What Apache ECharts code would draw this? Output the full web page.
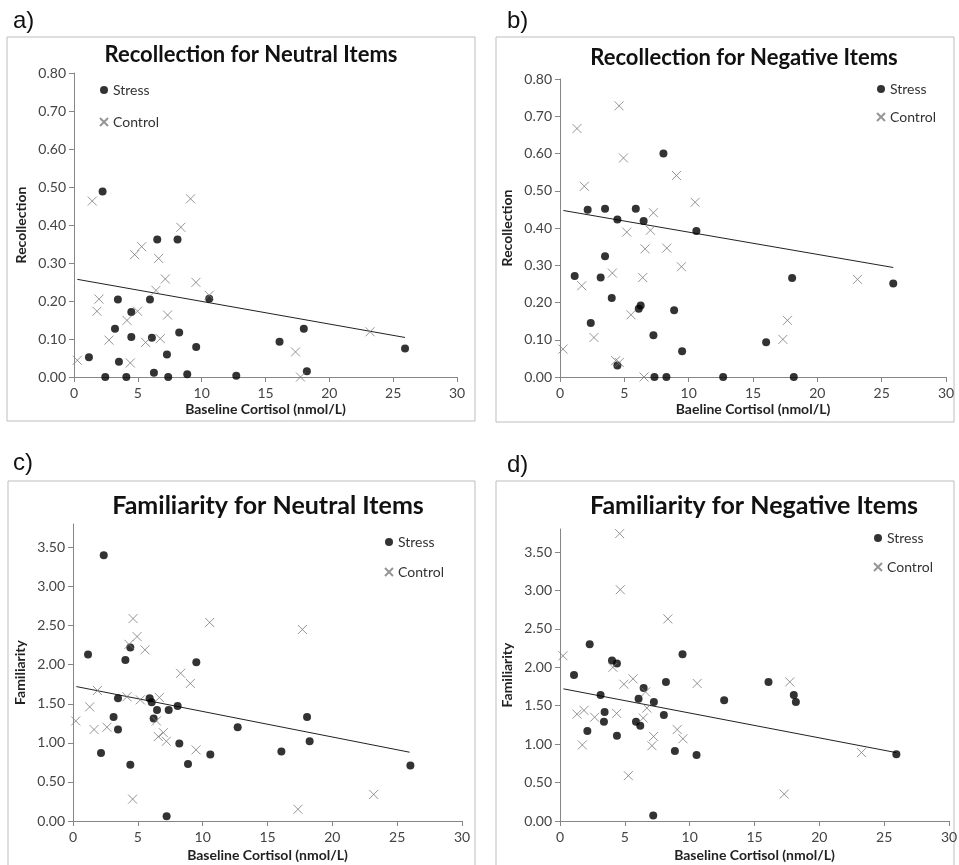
<!DOCTYPE html>
<html>
<head>
<meta charset="utf-8">
<script src="https://cdn.jsdelivr.net/npm/echarts@6/dist/echarts.min.js"></script>
<style>
    html, body { margin: 0; padding: 0; background: #ffffff; }
    #main { width: 959px; height: 865px; }
</style>
</head>
<body>
<div id="main"></div>
<script>
// ---- data ----
var xTicks = [0, 5, 10, 15, 20, 25, 30];
var recTicks = [0, 0.1, 0.2, 0.3, 0.4, 0.5, 0.6, 0.7, 0.8];
var famTicks = [0, 0.5, 1, 1.5, 2, 2.5, 3, 3.5];

var panelLabels = ['a)', 'b)', 'c)', 'd)'];
var panelTitles = [
    'Recollection for Neutral Items',
    'Recollection for Negative Items',
    'Familiarity for Neutral Items',
    'Familiarity for Negative Items'
];
var xNames = ['Baseline Cortisol (nmol/L)', 'Baeline Cortisol (nmol/L)', 'Baseline Cortisol (nmol/L)', 'Baseline Cortisol (nmol/L)'];
var yNames = ['Recollection', 'Recollection', 'Familiarity', 'Familiarity'];

// a) recollection, neutral
var recNeuStress = [
    [1.17, 0.052], [2.24, 0.488], [2.45, 0.0], [3.21, 0.127], [3.44, 0.204], [3.52, 0.040],
    [4.10, 0.0], [4.49, 0.171], [4.49, 0.105], [5.95, 0.204], [6.10, 0.103], [6.26, 0.011],
    [6.52, 0.362], [7.28, 0.059], [7.38, 0.0], [8.11, 0.362], [8.24, 0.117], [8.87, 0.007],
    [9.57, 0.079], [10.59, 0.206], [12.71, 0.003], [16.10, 0.093], [18.00, 0.127],
    [18.24, 0.015], [25.93, 0.075]
];
var recNeuControl = [
    [0.26, 0.044], [1.43, 0.463], [1.80, 0.173], [1.96, 0.205], [2.74, 0.097], [4.15, 0.149],
    [4.41, 0.037], [4.75, 0.322], [4.98, 0.173], [5.30, 0.343], [5.61, 0.091], [6.42, 0.228],
    [6.63, 0.312], [6.76, 0.101], [7.15, 0.258], [7.33, 0.163], [8.37, 0.394], [9.13, 0.469],
    [9.55, 0.249], [10.59, 0.215], [17.35, 0.066], [17.74, 0.0], [23.19, 0.119]
];
var recNeuFit = [[0.26, 0.257], [25.93, 0.104]];

// b) recollection, negative
var recNegStress = [
    [1.14, 0.271], [2.15, 0.449], [2.39, 0.145], [3.16, 0.267], [3.50, 0.452], [3.50, 0.324],
    [4.02, 0.212], [4.46, 0.423], [4.46, 0.031], [5.89, 0.452], [6.12, 0.183], [6.27, 0.192],
    [6.50, 0.419], [7.26, 0.112], [7.34, 0.0], [8.04, 0.600], [8.27, 0.0], [8.87, 0.179],
    [9.49, 0.069], [10.60, 0.392], [12.68, 0.0], [16.02, 0.093], [18.04, 0.266],
    [18.17, 0.0], [25.90, 0.251]
];
var recNegControl = [
    [0.23, 0.075], [1.32, 0.667], [1.69, 0.245], [1.89, 0.512], [2.64, 0.106], [4.07, 0.279],
    [4.33, 0.044], [4.61, 0.039], [4.59, 0.728], [4.93, 0.588], [5.19, 0.389], [5.52, 0.167],
    [6.43, 0.267], [6.53, 0.0], [6.61, 0.344], [7.03, 0.394], [7.26, 0.441], [8.30, 0.346],
    [9.05, 0.541], [9.44, 0.296], [10.50, 0.469], [17.32, 0.101], [17.68, 0.152], [23.12, 0.262]
];
var recNegFit = [[0.26, 0.447], [25.90, 0.294]];

// c) familiarity, neutral
var famNeuStress = [
    [1.16, 2.13], [2.16, 0.87], [2.37, 3.40], [3.13, 1.33], [3.47, 1.57], [3.47, 1.17],
    [4.04, 2.06], [4.42, 2.22], [4.42, 0.72], [5.91, 1.57], [6.07, 1.52], [6.22, 1.31],
    [6.48, 1.42], [7.22, 0.06], [7.38, 1.42], [8.07, 1.47], [8.20, 0.99], [8.87, 0.73],
    [9.51, 2.03], [10.59, 0.85], [12.70, 1.20], [16.07, 0.89], [18.05, 1.33],
    [18.25, 1.02], [26.02, 0.71]
];
var famNeuControl = [
    [0.21, 1.28], [1.29, 1.46], [1.62, 1.17], [1.88, 1.67], [2.62, 1.20], [4.16, 1.59],
    [4.32, 2.26], [4.63, 2.59], [4.60, 0.28], [4.94, 2.36], [5.19, 1.55], [5.55, 2.19],
    [6.43, 1.28], [6.66, 1.58], [6.58, 1.08], [6.97, 1.13], [7.20, 1.02], [8.30, 1.89],
    [9.05, 1.76], [9.49, 0.91], [10.54, 2.54], [17.35, 0.15], [17.69, 2.45], [23.19, 0.34]
];
var famNeuFit = [[0.26, 1.72], [25.96, 0.88]];

// d) familiarity, negative
var famNegStress = [
    [1.08, 1.90], [2.11, 1.17], [2.29, 2.30], [3.13, 1.64], [3.44, 1.42], [3.39, 1.29],
    [4.01, 2.09], [4.39, 2.05], [4.39, 1.11], [5.86, 1.29], [6.06, 1.59], [6.19, 1.24],
    [6.45, 1.73], [7.19, 0.07], [7.24, 1.55], [8.01, 1.38], [8.17, 1.81], [8.86, 0.91],
    [9.45, 2.17], [10.53, 0.86], [12.66, 1.57], [16.08, 1.81], [18.03, 1.64],
    [18.19, 1.55], [25.94, 0.87]
];
var famNegControl = [
    [0.23, 2.15], [1.31, 1.39], [1.72, 0.99], [1.85, 1.44], [2.67, 1.35], [4.08, 2.00],
    [4.37, 1.40], [4.60, 3.74], [4.65, 3.01], [4.93, 1.78], [5.27, 0.59], [5.63, 1.85],
    [6.42, 1.34], [6.60, 1.68], [6.70, 1.47], [7.09, 0.98], [7.22, 1.10], [8.32, 2.63],
    [9.04, 1.19], [9.48, 1.07], [10.58, 1.79], [17.29, 0.35], [17.72, 1.81], [23.25, 0.89]
];
var famNegFit = [[0.26, 1.72], [25.94, 0.89]];

var stressData = [recNeuStress, recNegStress, famNeuStress, famNegStress];
var controlData = [recNeuControl, recNegControl, famNeuControl, famNegControl];
var fitData = [recNeuFit, recNegFit, famNeuFit, famNegFit];

// ---- layout ----
var grids = [
    { left: 74, top: 73, width: 383, height: 304 },
    { left: 560, top: 79, width: 386, height: 298 },
    { left: 73, top: 524, width: 389, height: 297 },
    { left: 560, top: 529, width: 389, height: 292 }
];
var frames = [
    { x: 7, y: 37, width: 468, height: 384 },
    { x: 496, y: 37, width: 458, height: 385 },
    { x: 8, y: 481, width: 467, height: 420 },
    { x: 496, y: 481, width: 458, height: 420 }
];
var titlePos = [[246, 39], [739, 42], [263, 488], [749, 488]];
var titleSize = [22, 22, 25, 25];
var labelPos = [[8, 4], [502, 4], [8, 446], [502, 448]];
var legendPos = [[99, 83], [876, 82], [384, 535], [873, 531]];
var legendGap = [18, 14, 16, 15];

var fontFam = 'Lato, "Liberation Sans", sans-serif';
var axisGray = '#868686';
var crossPath = 'path://M0,0L10,10M10,0L0,10';

function renderFigure() {
    var dom = document.getElementById('main');
    var myChart = echarts.init(dom, null, { renderer: 'canvas' });

    var option = {
        backgroundColor: '#FFFFFF',
        animation: false,
        textStyle: { fontFamily: fontFam },
        title: [],
        legend: [],
        grid: [],
        xAxis: [],
        yAxis: [],
        series: [],
        graphic: []
    };

    for (var i = 0; i < 4; i++) {
        var isRec = i < 2;
        var ticks = isRec ? recTicks : famTicks;

        option.graphic.push({
            type: 'rect',
            shape: frames[i],
            style: { fill: 'none', stroke: '#bdbdbd', lineWidth: 1 },
            silent: true
        });

        option.title.push({
            text: panelLabels[i],
            left: labelPos[i][0],
            top: labelPos[i][1],
            textStyle: { fontFamily: '"Liberation Sans", Arial, sans-serif', fontWeight: 'normal', fontSize: 24, color: '#111' }
        });
        option.title.push({
            text: panelTitles[i],
            left: titlePos[i][0],
            top: titlePos[i][1],
            textAlign: 'center',
            textStyle: { fontFamily: fontFam, fontWeight: 'bold', fontSize: titleSize[i], color: '#111' }
        });

        option.legend.push({
            orient: 'vertical',
            left: legendPos[i][0],
            top: legendPos[i][1],
            itemGap: legendGap[i],
            itemWidth: 8,
            itemHeight: 8,
            padding: 0,
            data: [
                { name: 'Stress', icon: 'circle' },
                { name: 'Control', icon: crossPath }
            ],
            textStyle: { fontFamily: fontFam, fontSize: 14, color: '#333' }
        });

        option.grid.push({
            left: grids[i].left,
            top: grids[i].top,
            width: grids[i].width,
            height: grids[i].height,
            containLabel: false,
            outerBoundsMode: 'none'
        });

        option.xAxis.push({
            type: 'value',
            gridIndex: i,
            min: 0,
            max: 30,
            interval: 5,
            name: xNames[i],
            nameLocation: 'middle',
            nameGap: isRec ? 25 : 27,
            nameTextStyle: { fontFamily: fontFam, fontWeight: 'bold', fontSize: 14, color: '#222' },
            axisLine: { show: true, onZero: false, lineStyle: { color: axisGray, width: 1 } },
            axisTick: { show: true, inside: false, length: 5, lineStyle: { color: axisGray } },
            axisLabel: {
                customValues: xTicks,
                margin: 9,
                fontSize: 14,
                color: '#444',
                fontFamily: fontFam
            },
            splitLine: { show: false }
        });

        option.yAxis.push({
            type: 'value',
            gridIndex: i,
            min: 0,
            max: isRec ? 0.8 : 3.8,
            name: yNames[i],
            nameLocation: 'middle',
            nameGap: 46,
            nameTextStyle: { fontFamily: fontFam, fontWeight: 'bold', fontSize: 14, color: '#222' },
            axisLine: { show: true, onZero: false, lineStyle: { color: axisGray, width: 1 } },
            axisTick: { show: true, inside: false, length: 5, customValues: ticks, lineStyle: { color: axisGray } },
            axisLabel: {
                customValues: ticks,
                margin: 8,
                fontSize: 14,
                color: '#444',
                fontFamily: fontFam,
                formatter: function (v) { return v.toFixed(2); }
            },
            splitLine: { show: false }
        });

        option.series.push({
            name: 'Stress',
            type: 'scatter',
            xAxisIndex: i,
            yAxisIndex: i,
            symbol: 'circle',
            symbolSize: 8,
            itemStyle: { color: '#000000' },
            data: stressData[i],
            z: 3
        });
        option.series.push({
            name: 'Control',
            type: 'scatter',
            xAxisIndex: i,
            yAxisIndex: i,
            symbol: crossPath,
            symbolSize: 9,
            itemStyle: { color: 'transparent', borderColor: '#7a7a7a', borderWidth: 1 },
            data: controlData[i],
            z: 3
        });
        option.series.push({
            name: 'fit' + i,
            type: 'line',
            xAxisIndex: i,
            yAxisIndex: i,
            symbol: 'none',
            lineStyle: { color: '#222', width: 1 },
            data: fitData[i],
            z: 2
        });
    }

    if (option && typeof option === 'object') {
        myChart.setOption(option);
    }
}
renderFigure();
</script>
</body>
</html>
